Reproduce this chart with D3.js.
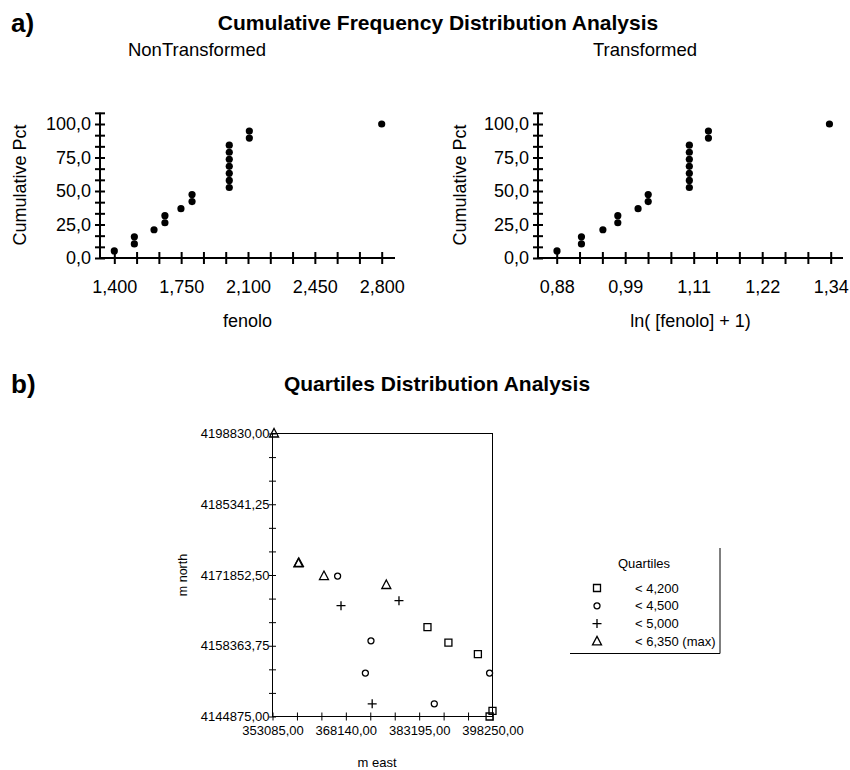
<!DOCTYPE html>
<html lang="en">
<head>
<meta charset="utf-8">
<title>Cumulative Frequency and Quartiles Distribution Analysis</title>
<script src="https://d3js.org/d3.v7.min.js"></script>
<style>
  body { margin: 0; background: #fff; }
  svg { font-family: "Liberation Sans", Arial, sans-serif; }
  .domain { display: none; }
</style>
</head>
<body>
<div id="chart"></div>
<script>
// ---- data ----
// cumulative frequency plots (19 samples)
var fenolo = [1.400, 1.505, 1.505, 1.608, 1.665, 1.665, 1.749, 1.807, 1.807,
              2.002, 2.002, 2.002, 2.002, 2.002, 2.002, 2.002, 2.107, 2.107, 2.800];
var lnFenolo = [0.876, 0.917, 0.917, 0.953, 0.978, 0.978, 1.012, 1.029, 1.029,
                1.098, 1.098, 1.098, 1.098, 1.098, 1.098, 1.098, 1.130, 1.130, 1.333];
var cumPct = [5.3, 10.5, 15.8, 21.1, 26.3, 31.6, 36.8, 42.1, 47.4, 52.6,
              57.9, 63.2, 68.4, 73.7, 78.9, 84.2, 89.5, 94.7, 100.0];

var pctTicks = [0, 25, 50, 75, 100];
var fenoloTicks = [1.400, 1.750, 2.100, 2.450, 2.800];
var lnTicks = [0.8755, 0.9904, 1.1053, 1.2202, 1.3351];
var lnTickLabels = ["0,88", "0,99", "1,11", "1,22", "1,34"];

// quartiles map
var quartileLabels = ["< 4,200", "< 4,500", "< 5,000", "< 6,350 (max)"];
var east  = [384900, 389200, 395250, 398250, 397650,
             366450, 373300, 372150, 386300, 397650,
             367150, 379050, 373550,
             353400, 358400, 358500, 363650, 376450];
var north = [4161900, 4158950, 4156750, 4145950, 4144875,
             4171650, 4159300, 4153150, 4147300, 4153150,
             4166000, 4166950, 4147300,
             4198830, 4174050, 4174150, 4171650, 4169950];
var quartile = [0, 0, 0, 0, 0,
                1, 1, 1, 1, 1,
                2, 2, 2,
                3, 3, 3, 3, 3];
var eastTicks = [353085, 368140, 383195, 398250];
var northTicks = [4144875, 4158363.75, 4171852.5, 4185341.25, 4198830];

// ---- helpers ----
function comma(f) { return function (d) { return d3.format(f)(d).replace(".", ","); }; }

var svg = d3.select("#chart").append("svg")
    .attr("width", 850).attr("height", 770);

// headings
svg.append("text").attr("x", 11).attr("y", 32)
    .attr("font-size", 26).attr("font-weight", "bold").text("a)");
svg.append("text").attr("x", 438).attr("y", 30).attr("text-anchor", "middle")
    .attr("font-size", 21).attr("font-weight", "bold")
    .text("Cumulative Frequency Distribution Analysis");
svg.append("text").attr("x", 11).attr("y", 393)
    .attr("font-size", 26).attr("font-weight", "bold").text("b)");
svg.append("text").attr("x", 437).attr("y", 391).attr("text-anchor", "middle")
    .attr("font-size", 21).attr("font-weight", "bold")
    .text("Quartiles Distribution Analysis");

// ---- cumulative frequency panel ----
function cumPanel(opt) {
    var g = svg.append("g");
    var x = d3.scaleLinear().domain([opt.ticks[0], opt.ticks[opt.ticks.length - 1]])
        .range(opt.range);
    var y = d3.scaleLinear().domain([0, 100]).range([258, 124]);
    var step = (opt.ticks[1] - opt.ticks[0]) / 3;
    var xMinor = d3.range(opt.ticks[0], opt.ticks[opt.ticks.length - 1] + step / 2, step);
    var yMinor = d3.range(0, 110, 25 / 3);

    // axis lines
    g.append("line").attr("x1", opt.x0).attr("x2", opt.x0)
        .attr("y1", 258).attr("y2", y(108.4))
        .attr("stroke", "#000").attr("stroke-width", 2);
    g.append("line").attr("x1", opt.x0).attr("x2", opt.x1)
        .attr("y1", 258).attr("y2", 258)
        .attr("stroke", "#000").attr("stroke-width", 2);

    // ticks crossing the axes
    [d3.axisLeft, d3.axisRight].forEach(function (ax) {
        g.append("g").attr("transform", "translate(" + opt.x0 + ",0)")
            .call(ax(y).tickValues(yMinor).tickSize(5).tickFormat(""))
            .selectAll("line").attr("stroke-width", 2);
    });
    [d3.axisTop, d3.axisBottom].forEach(function (ax) {
        g.append("g").attr("transform", "translate(0,258)")
            .call(ax(x).tickValues(xMinor).tickSize(6).tickFormat(""))
            .selectAll("line").attr("stroke-width", 2);
    });

    // tick labels
    g.append("g").attr("transform", "translate(" + opt.x0 + ",0)")
        .call(d3.axisLeft(y).tickValues(pctTicks).tickSize(0).tickPadding(9)
            .tickFormat(comma(".1f")))
        .selectAll("text").attr("font-size", 18).attr("fill", "#000")
        .attr("font-family", "Liberation Sans, Arial, sans-serif");
    g.append("g").attr("transform", "translate(0,258)")
        .call(d3.axisBottom(x).tickValues(opt.ticks).tickSize(0).tickPadding(22)
            .tickFormat(function (d, i) { return opt.labels[i]; }))
        .selectAll("text").attr("font-size", 18).attr("fill", "#000")
        .attr("font-family", "Liberation Sans, Arial, sans-serif");

    // points
    g.selectAll("circle.pt").data(opt.values).join("circle")
        .attr("class", "pt")
        .attr("cx", function (d) { return x(d); })
        .attr("cy", function (d, i) { return y(cumPct[i]); })
        .attr("r", 3.6).attr("fill", "#000");

    // titles
    g.append("text").attr("x", opt.subX).attr("y", 56).attr("text-anchor", "middle")
        .attr("font-size", 18.5).text(opt.subtitle);
    g.append("text").attr("transform", "translate(" + opt.ylabX + ",185) rotate(-90)")
        .attr("text-anchor", "middle").attr("font-size", 18).text("Cumulative Pct");
    g.append("text").attr("x", (opt.x0 + opt.x1) / 2).attr("y", 327)
        .attr("text-anchor", "middle").attr("font-size", 18).text(opt.xlabel);
}

cumPanel({
    values: fenolo, ticks: fenoloTicks,
    labels: fenoloTicks.map(comma(".3f")),
    range: [114.3, 381.7], x0: 100, x1: 395,
    subtitle: "NonTransformed", subX: 197, ylabX: 26, xlabel: "fenolo"
});
cumPanel({
    values: lnFenolo, ticks: lnTicks, labels: lnTickLabels,
    range: [556.7, 830.7], x0: 538, x1: 843,
    subtitle: "Transformed", subX: 645, ylabX: 466, xlabel: "ln( [fenolo] + 1)"
});

// ---- quartiles map ----
var mx = d3.scaleLinear().domain([eastTicks[0], eastTicks[3]]).range([272.5, 492.5]);
var my = d3.scaleLinear().domain([northTicks[0], northTicks[4]]).range([716.5, 433.5]);
var mg = svg.append("g");
var eStep = (eastTicks[1] - eastTicks[0]) / 3;
var nStep = (northTicks[1] - northTicks[0]) / 3;
var eMinor = d3.range(eastTicks[0], eastTicks[3] + eStep / 2, eStep);
var nMinor = d3.range(northTicks[0], northTicks[4] + nStep / 2, nStep);

mg.append("rect").attr("x", mx.range()[0]).attr("y", my.range()[1])
    .attr("width", mx.range()[1] - mx.range()[0])
    .attr("height", my.range()[0] - my.range()[1])
    .attr("fill", "none").attr("stroke", "#000").attr("stroke-width", 1);

[d3.axisLeft, d3.axisRight].forEach(function (ax) {
    mg.append("g").attr("transform", "translate(" + mx.range()[0] + ",0)")
        .call(ax(my).tickValues(nMinor).tickSize(3.5).tickFormat(""));
});
[d3.axisTop, d3.axisBottom].forEach(function (ax) {
    mg.append("g").attr("transform", "translate(0," + my.range()[0] + ")")
        .call(ax(mx).tickValues(eMinor).tickSize(4).tickFormat(""));
});
mg.append("g").attr("transform", "translate(" + (mx.range()[0] - 1) + ",0)")
    .call(d3.axisLeft(my).tickValues(northTicks).tickSize(0).tickPadding(2)
        .tickFormat(comma(".2f")))
    .selectAll("text").attr("font-size", 13).attr("fill", "#000")
    .attr("font-family", "Liberation Sans, Arial, sans-serif");
mg.append("g").attr("transform", "translate(0," + my.range()[0] + ")")
    .call(d3.axisBottom(mx).tickValues(eastTicks).tickSize(0).tickPadding(9)
        .tickFormat(comma(".2f")))
    .selectAll("text").attr("font-size", 13).attr("fill", "#000")
    .attr("font-family", "Liberation Sans, Arial, sans-serif");

mg.append("text").attr("transform", "translate(187," + d3.mean(my.range()) + ") rotate(-90)")
    .attr("text-anchor", "middle").attr("font-size", 12.5).text("m north");
mg.append("text").attr("x", 377).attr("y", 767)
    .attr("text-anchor", "middle").attr("font-size", 13).text("m east");

// marker shapes
function marker(k) {
    if (k === 0) return "M-3.5,-3.5H3.5V3.5H-3.5Z";
    if (k === 1) return "M3,0A3,3 0 1,1 -3,0A3,3 0 1,1 3,0Z";
    if (k === 2) return "M-4.5,0H4.5M0,-4.5V4.5";
    return "M0,-5L4.5,3.5H-4.5Z";
}

mg.selectAll("path.q").data(east).join("path")
    .attr("class", "q")
    .attr("transform", function (d, i) { return "translate(" + mx(d) + "," + my(north[i]) + ")"; })
    .attr("d", function (d, i) { return marker(quartile[i]); })
    .attr("fill", "none").attr("stroke", "#000").attr("stroke-width", 1.3);

// legend
var lg = svg.append("g");
lg.append("path").attr("d", "M720,548V653.5H570")
    .attr("fill", "none").attr("stroke", "#000").attr("stroke-width", 1);
lg.append("text").attr("x", 644).attr("y", 568).attr("text-anchor", "middle")
    .attr("font-size", 13).text("Quartiles");
var rows = lg.selectAll("g.row").data(quartileLabels).join("g")
    .attr("class", "row")
    .attr("transform", function (d, i) { return "translate(0," + (588 + i * 17.8) + ")"; });
rows.append("path").attr("transform", "translate(597,0)")
    .attr("d", function (d, i) { return marker(i); })
    .attr("fill", "none").attr("stroke", "#000").attr("stroke-width", 1.3);
rows.append("text").attr("x", 635).attr("dy", "0.35em")
    .attr("font-size", 13).text(function (d) { return d; });
</script>
</body>
</html>
